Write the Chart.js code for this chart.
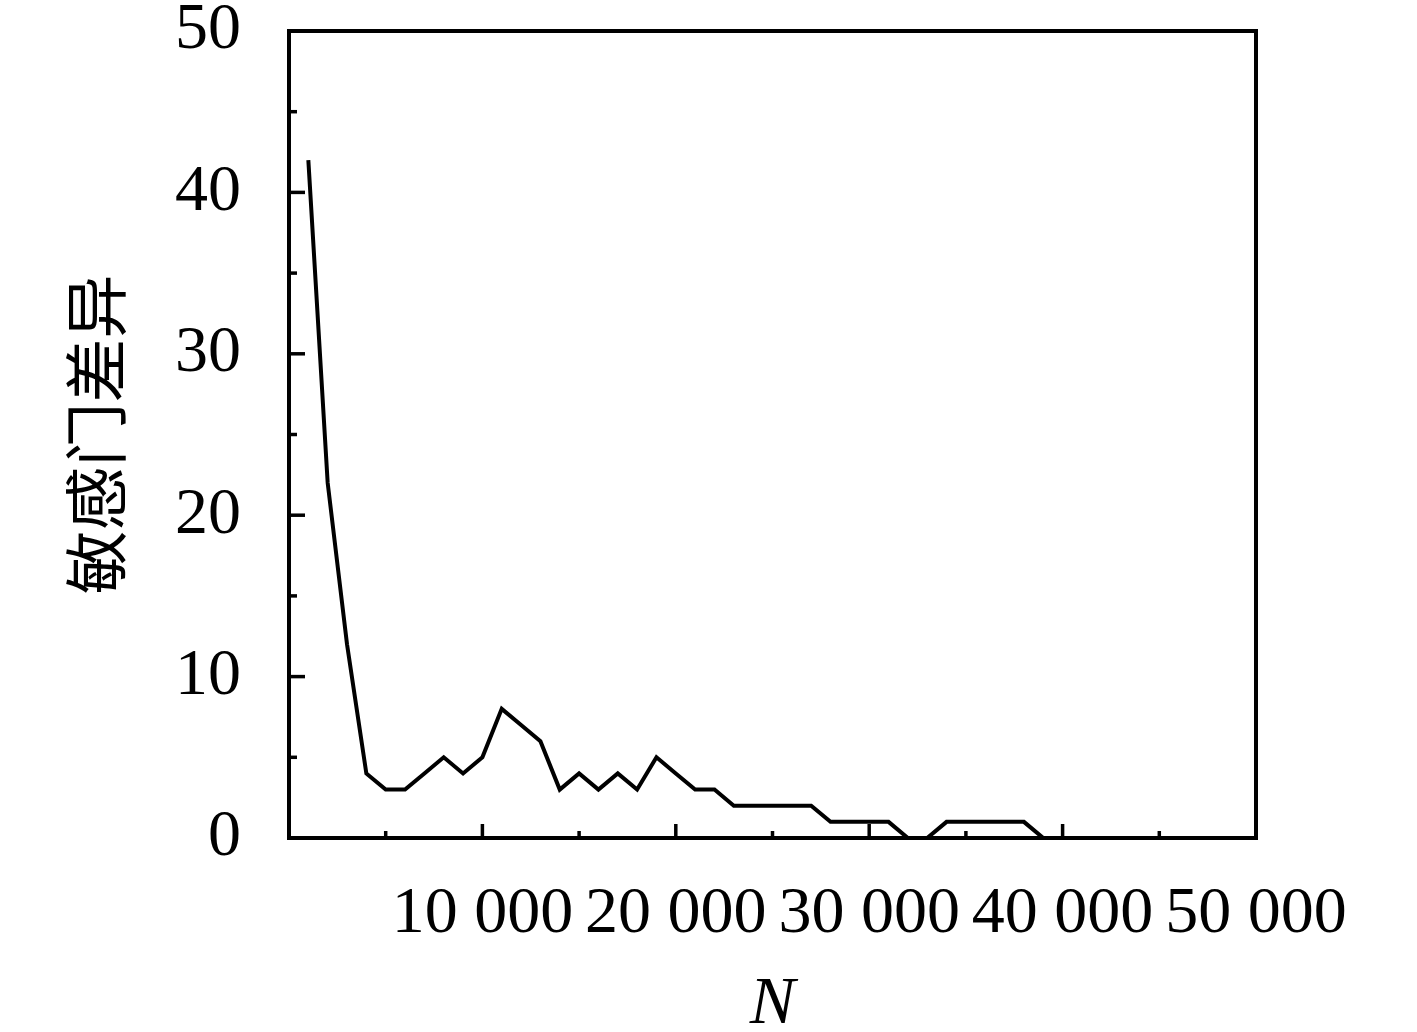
<!DOCTYPE html>
<html>
<head>
<meta charset="utf-8">
<script src="https://cdn.jsdelivr.net/npm/chart.js@4.4.1/dist/chart.umd.min.js"></script>
<style>
  html, body { margin: 0; padding: 0; background: #fff; }
  #wrap { width: 1417px; height: 1032px; }
</style>
</head>
<body>
<div id="wrap"><canvas id="chart" width="1417" height="1032"></canvas></div>
<script>
// --- data ---
const nValues = [
  1000, 2000, 3000, 4000, 5000, 6000, 7000, 8000, 9000, 10000,
  11000, 12000, 13000, 14000, 15000, 16000, 17000, 18000, 19000, 20000,
  21000, 22000, 23000, 24000, 25000, 26000, 27000, 28000, 29000, 30000,
  31000, 32000, 33000, 34000, 35000, 36000, 37000, 38000, 39000, 40000,
  41000, 42000, 43000, 44000, 45000, 46000, 47000, 48000, 49000, 50000
]
const diffValues = [
  42, 22, 12, 4, 3, 3, 4, 5, 4, 5,
  8, 7, 6, 3, 4, 3, 4, 3, 5, 4,
  3, 3, 2, 2, 2, 2, 2, 1, 1, 1,
  1, 0, 0, 1, 1, 1, 1, 1, 0, 0,
  0, 0, 0, 0, 0, 0, 0, 0, 0, 0
]
const xTickLabels = { 10000: "10 000", 20000: "20 000", 30000: "30 000", 40000: "40 000", 50000: "50 000" }
const yTickLabels = ["0", "10", "20", "30", "40", "50"]

const SERIF = "'Liberation Serif', 'DejaVu Serif', serif"

// frame box + inward ticks (major / minor)
const framePlugin = {
  id: "frame",
  afterDraw(chart) {
    const { ctx, chartArea: a, scales } = chart
    ctx.save()
    ctx.strokeStyle = "#000"
    ctx.lineWidth = 3.5
    ctx.lineCap = "butt"
    // x ticks
    scales.x.ticks.forEach((t) => {
      if (t.value <= 0 || t.value >= 50000) return
      const px = scales.x.getPixelForValue(t.value)
      const len = t.value % 10000 === 0 ? 14 : 7
      ctx.beginPath()
      ctx.moveTo(px, a.bottom)
      ctx.lineTo(px, a.bottom - len)
      ctx.stroke()
    })
    // y ticks
    scales.y.ticks.forEach((t) => {
      if (t.value <= 0 || t.value >= 50) return
      const py = scales.y.getPixelForValue(t.value)
      const len = t.value % 10 === 0 ? 16 : 8
      ctx.beginPath()
      ctx.moveTo(a.left, py)
      ctx.lineTo(a.left + len, py)
      ctx.stroke()
    })
    ctx.lineWidth = 4
    ctx.strokeRect(a.left, a.top, a.right - a.left, a.bottom - a.top)
    ctx.restore()
  },
}

new Chart(document.getElementById("chart"), {
  type: "line",
  data: {
    datasets: [
      {
        data: nValues.map((n, i) => ({ x: n, y: diffValues[i] })),
        borderColor: "#000",
        borderWidth: 4,
        pointRadius: 0,
        tension: 0,
        fill: false,
        clip: false,
      },
    ],
  },
  options: {
    responsive: false,
    animation: false,
    layout: { padding: { top: 31, right: 161, left: 0, bottom: 0 } },
    plugins: { legend: { display: false }, tooltip: { enabled: false } },
    scales: {
      x: {
        type: "linear",
        min: 0,
        max: 50000,
        grid: { display: false, drawTicks: false },
        border: { display: false },
        ticks: {
          stepSize: 5000,
          autoSkip: false,
          maxRotation: 0,
          padding: 37,
          color: "#000",
          font: { family: SERIF, size: 66 },
          callback: (v) => xTickLabels[v] || "",
        },
        title: {
          display: true,
          text: "N",
          color: "#000",
          font: { family: SERIF, size: 68, style: "italic", lineHeight: 0.8 },
          padding: { top: 0, bottom: 0 },
        },
        afterFit: (s) => {
          s.height = 194
          s.paddingLeft = 0
          s.paddingRight = 0
        },
      },
      y: {
        min: 0,
        max: 50,
        grid: { display: false, drawTicks: false },
        border: { display: false },
        ticks: {
          stepSize: 5,
          autoSkip: false,
          padding: 48,
          color: "#000",
          font: { family: SERIF, size: 66 },
          callback: (v) => (v % 10 === 0 ? yTickLabels[v / 10] : ""),
        },
        title: {
          display: true,
          text: "敏感门差异",
          color: "#000",
          font: { family: "'Noto Sans CJK SC', sans-serif", size: 64 },
          padding: { top: 57, bottom: 0 },
        },
        afterFit: (s) => {
          s.width = 289
          s.paddingTop = 0
          s.paddingBottom = 0
        },
      },
    },
  },
  plugins: [framePlugin],
})
</script>
</body>
</html>
